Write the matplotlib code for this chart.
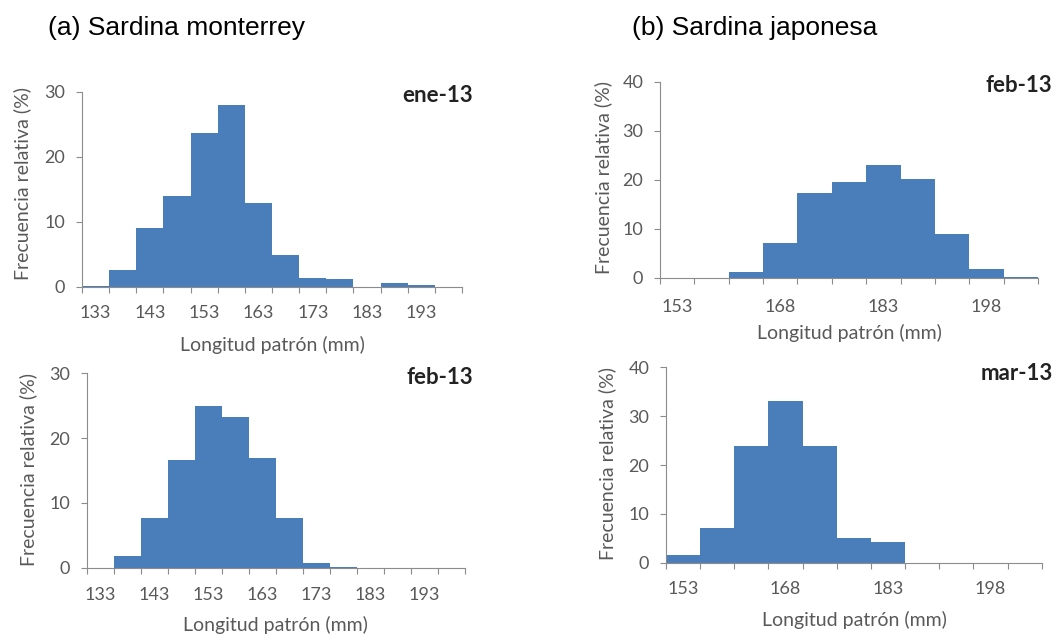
import numpy as np
import matplotlib
matplotlib.use('Agg')
import matplotlib.pyplot as plt

W, H = 1057, 635

# length classes (mm)
mty_cats = [133, 138, 143, 148, 153, 158, 163, 168, 173, 178, 183, 188, 193, 198]
jap_cats = [153, 158, 163, 168, 173, 178, 183, 188, 193, 198, 203]
mty_labels = [133, 143, 153, 163, 173, 183, 193]
jap_labels = [153, 168, 183, 198]

# relative frequency (%)
mty_ene13 = [0.1, 2.5, 9.1, 14.0, 23.6, 27.9, 12.8, 4.9, 1.4, 1.2, 0, 0.5, 0.25, 0]
mty_feb13 = [0, 1.85, 7.6, 16.6, 25.0, 23.2, 17.0, 7.6, 0.77, 0.15, 0, 0, 0, 0]
jap_feb13 = [0, 0, 1.15, 7.1, 17.4, 19.5, 23.0, 20.2, 9.0, 1.8, 0.3]
jap_mar13 = [1.57, 7.2, 23.9, 33.0, 23.9, 5.1, 4.3, 0, 0, 0, 0]

bar_color = '#4A7EBB'
axis_color = '#8C8C8C'
text_color = '#595959'
font = 'Lato'


def fx(px):
    return px / W


def fy(py):
    return 1 - py / H


def panel(rect, cats, vals, labels, ymax, tag, tag_xy, ylab_xy, xlab_xy, xpad):
    x0, y0, x1, y1 = rect
    ax = fig.add_axes([fx(x0), fy(y1), (x1 - x0) / W, (y1 - y0) / H])
    n = len(cats)
    pos = np.arange(n)
    ax.bar(pos, vals, width=1.0, color=bar_color, edgecolor='none')
    ax.set_xlim(-0.5, n - 0.5)
    ax.set_ylim(0, ymax)
    ax.set_yticks(np.arange(0, ymax + 1, 10))
    ax.set_yticklabels([str(v) for v in range(0, ymax + 1, 10)],
                       fontsize=13, color=text_color, family=font)
    # tick marks on category boundaries, labels on category centres
    ax.set_xticks(np.arange(n + 1) - 0.5)
    ax.set_xticklabels([])
    lab_pos = [cats.index(c) for c in labels]
    ax.set_xticks(lab_pos, minor=True)
    ax.set_xticklabels([str(c) for c in labels], minor=True,
                       fontsize=13, color=text_color, family=font)
    ax.tick_params(axis='x', which='major', length=4.5, width=0.8, color=axis_color)
    ax.tick_params(axis='x', which='minor', length=0, pad=xpad)
    ax.tick_params(axis='y', length=4, width=0.8, color=axis_color, pad=8)
    for s in ['top', 'right']:
        ax.spines[s].set_visible(False)
    for s in ['left', 'bottom']:
        ax.spines[s].set_color(axis_color)
        ax.spines[s].set_linewidth(0.8)
    fig.text(fx(tag_xy[0]), fy(tag_xy[1]), tag, ha='right', va='center',
             fontsize=16, fontweight='bold', color='#222222', family=font)
    fig.text(fx(ylab_xy[0]), fy(ylab_xy[1]), 'Frecuencia relativa (%)',
             rotation=90, ha='center', va='center', fontsize=14,
             color=text_color, family=font)
    fig.text(fx(xlab_xy[0]), fy(xlab_xy[1]), 'Longitud patrón (mm)',
             ha='center', va='center', fontsize=14, color=text_color, family=font)
    return ax


fig = plt.figure(figsize=(W / 100, H / 100), dpi=100)

fig.text(fx(48), fy(28), '(a) Sardina monterrey', ha='left', va='center',
         fontsize=19, family='Liberation Sans', color='black')
fig.text(fx(632), fy(28), '(b) Sardina japonesa', ha='left', va='center',
         fontsize=19, family='Liberation Sans', color='black')

panel((82, 91.7, 462, 286.7), mty_cats, mty_ene13, mty_labels, 30, 'ene-13',
      (473, 95), (22, 183), (272, 345), 13)
panel((87, 373.3, 465, 567.7), mty_cats, mty_feb13, mty_labels, 30, 'feb-13',
      (473, 378), (28, 469), (275, 625), 14)
panel((660, 81.7, 1038, 278), jap_cats, jap_feb13, jap_labels, 40, 'feb-13',
      (1052, 85), (603, 177), (849, 333), 15)
panel((666, 367.3, 1041.7, 562.7), jap_cats, jap_mar13, jap_labels, 40, 'mar-13',
      (1053, 373), (607, 464), (854, 620), 13)

fig.savefig('out.png', dpi=100)
